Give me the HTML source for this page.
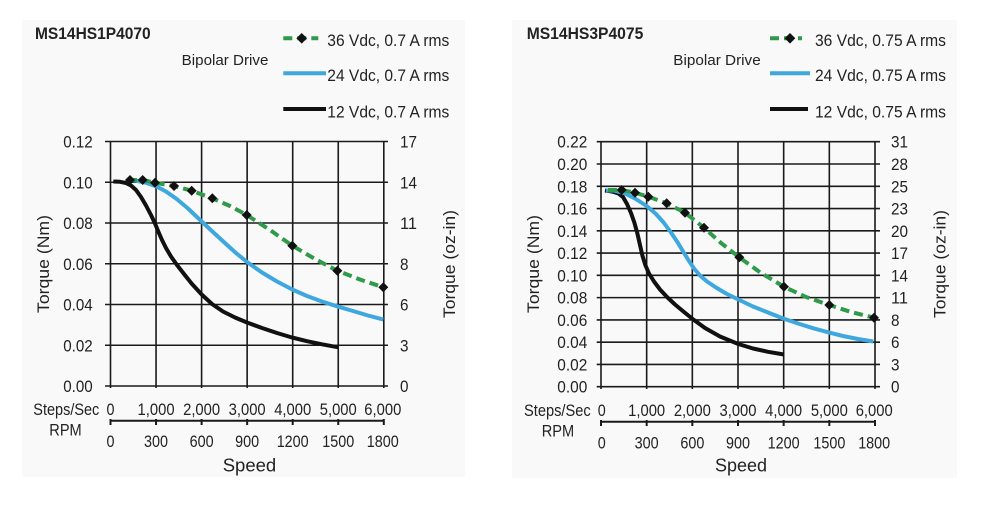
<!DOCTYPE html>
<html>
<head>
<meta charset="utf-8">
<style>
html,body{margin:0;padding:0;background:#fff;}
svg{display:block;}
text{font-family:"Liberation Sans",Arial,sans-serif;fill:#222;}
</style>
</head>
<body>
<svg width="989" height="505" viewBox="0 0 989 505" xmlns="http://www.w3.org/2000/svg">
<rect x="0" y="0" width="989" height="505" fill="#fff"/>
<rect x="22" y="20" width="443" height="457" fill="#f9f9f9"/>
<rect x="512" y="20" width="445" height="458" fill="#f9f9f9"/>

<!-- ============ LEFT CHART ============ -->
<g>
<text x="35" y="39" font-size="16.5" font-weight="bold" fill="#111" textLength="115.7" lengthAdjust="spacingAndGlyphs">MS14HS1P4070</text>
<text x="181.7" y="65" font-size="15" textLength="86.7" lengthAdjust="spacingAndGlyphs">Bipolar Drive</text>

<line x1="283.3" y1="38.3" x2="318.3" y2="38.3" stroke="#2f9a4a" stroke-width="4" stroke-dasharray="9,5"/>
<path d="M301.7,33 L307,38.3 L301.7,43.6 L296.4,38.3 Z" fill="#111"/>
<text x="327.3" y="46" font-size="17" textLength="122" lengthAdjust="spacingAndGlyphs">36 Vdc, 0.7 A rms</text>
<line x1="283.3" y1="73.3" x2="326" y2="73.3" stroke="#3ea8de" stroke-width="4"/>
<text x="327.3" y="81" font-size="17" textLength="122" lengthAdjust="spacingAndGlyphs">24 Vdc, 0.7 A rms</text>
<line x1="283.3" y1="109" x2="326" y2="109" stroke="#111" stroke-width="4"/>
<text x="327.3" y="117.3" font-size="17" textLength="122" lengthAdjust="spacingAndGlyphs">12 Vdc, 0.7 A rms</text>

<g stroke="#1a1a1a" stroke-width="1.6">
<line x1="105" y1="386" x2="388" y2="386"/>
<line x1="105" y1="345.25" x2="388" y2="345.25"/>
<line x1="105" y1="304.5" x2="388" y2="304.5"/>
<line x1="105" y1="263.75" x2="388" y2="263.75"/>
<line x1="105" y1="223" x2="388" y2="223"/>
<line x1="105" y1="182.25" x2="388" y2="182.25"/>
<line x1="105" y1="141.5" x2="388" y2="141.5"/>
<line x1="110.5" y1="141.5" x2="110.5" y2="388"/>
<line x1="156.05" y1="141.5" x2="156.05" y2="388"/>
<line x1="201.6" y1="141.5" x2="201.6" y2="388"/>
<line x1="247.15" y1="141.5" x2="247.15" y2="388"/>
<line x1="292.7" y1="141.5" x2="292.7" y2="388"/>
<line x1="338.25" y1="141.5" x2="338.25" y2="388"/>
<line x1="383.8" y1="141.5" x2="383.8" y2="388"/>
</g>

<g font-size="16.5" text-anchor="end">
<text x="92.7" y="392" textLength="29.5" lengthAdjust="spacingAndGlyphs">0.00</text>
<text x="92.7" y="351.25" textLength="29.5" lengthAdjust="spacingAndGlyphs">0.02</text>
<text x="92.7" y="310.5" textLength="29.5" lengthAdjust="spacingAndGlyphs">0.04</text>
<text x="92.7" y="269.75" textLength="29.5" lengthAdjust="spacingAndGlyphs">0.06</text>
<text x="92.7" y="229" textLength="29.5" lengthAdjust="spacingAndGlyphs">0.08</text>
<text x="92.7" y="188.25" textLength="29.5" lengthAdjust="spacingAndGlyphs">0.10</text>
<text x="92.7" y="147.5" textLength="29.5" lengthAdjust="spacingAndGlyphs">0.12</text>
</g>
<g font-size="16.5">
<text x="400" y="392" textLength="8.5" lengthAdjust="spacingAndGlyphs">0</text>
<text x="400" y="351.25" textLength="8.5" lengthAdjust="spacingAndGlyphs">3</text>
<text x="400" y="310.5" textLength="8.5" lengthAdjust="spacingAndGlyphs">6</text>
<text x="400" y="269.75" textLength="8.5" lengthAdjust="spacingAndGlyphs">8</text>
<text x="400" y="229" textLength="17" lengthAdjust="spacingAndGlyphs">11</text>
<text x="400" y="188.25" textLength="17" lengthAdjust="spacingAndGlyphs">14</text>
<text x="400" y="147.5" textLength="17" lengthAdjust="spacingAndGlyphs">17</text>
</g>

<text transform="translate(48.9,264) rotate(-90)" font-size="17" text-anchor="middle" textLength="98" lengthAdjust="spacingAndGlyphs">Torque (Nm)</text>
<text transform="translate(455.2,264) rotate(-90)" font-size="17" text-anchor="middle" textLength="108" lengthAdjust="spacingAndGlyphs">Torque (oz-in)</text>

<text x="33.3" y="415" font-size="16.5" textLength="66" lengthAdjust="spacingAndGlyphs">Steps/Sec</text>
<g font-size="16.5" text-anchor="middle">
<text x="110.5" y="415" textLength="8" lengthAdjust="spacingAndGlyphs">0</text>
<text x="156.05" y="415" textLength="37" lengthAdjust="spacingAndGlyphs">1,000</text>
<text x="201.6" y="415" textLength="37" lengthAdjust="spacingAndGlyphs">2,000</text>
<text x="247.15" y="415" textLength="37" lengthAdjust="spacingAndGlyphs">3,000</text>
<text x="292.7" y="415" textLength="37" lengthAdjust="spacingAndGlyphs">4,000</text>
<text x="338.25" y="415" textLength="37" lengthAdjust="spacingAndGlyphs">5,000</text>
<text x="382.8" y="415" textLength="37" lengthAdjust="spacingAndGlyphs">6,000</text>
</g>
<g stroke="#1a1a1a" stroke-width="2">
<line x1="110.3" y1="420.7" x2="384" y2="420.7"/>
<line x1="110.5" y1="419" x2="110.5" y2="425"/>
<line x1="156.05" y1="419" x2="156.05" y2="425"/>
<line x1="201.6" y1="419" x2="201.6" y2="425"/>
<line x1="247.15" y1="419" x2="247.15" y2="425"/>
<line x1="292.7" y1="419" x2="292.7" y2="425"/>
<line x1="338.25" y1="419" x2="338.25" y2="425"/>
<line x1="383.8" y1="419" x2="383.8" y2="425"/>
</g>
<text x="49.3" y="435.5" font-size="16.5" textLength="32.4" lengthAdjust="spacingAndGlyphs">RPM</text>
<g font-size="16.5" text-anchor="middle">
<text x="110.5" y="447" textLength="8" lengthAdjust="spacingAndGlyphs">0</text>
<text x="156.05" y="447" textLength="24" lengthAdjust="spacingAndGlyphs">300</text>
<text x="201.6" y="447" textLength="24" lengthAdjust="spacingAndGlyphs">600</text>
<text x="247.15" y="447" textLength="24" lengthAdjust="spacingAndGlyphs">900</text>
<text x="292.7" y="447" textLength="32" lengthAdjust="spacingAndGlyphs">1200</text>
<text x="338.25" y="447" textLength="32" lengthAdjust="spacingAndGlyphs">1500</text>
<text x="382.8" y="447" textLength="32" lengthAdjust="spacingAndGlyphs">1800</text>
</g>
<text x="222.7" y="471.7" font-size="18.5" textLength="53.5" lengthAdjust="spacingAndGlyphs">Speed</text>

<g fill="none" stroke-linejoin="round" stroke-linecap="butt">
<polyline stroke="#111" stroke-width="4" points="113.3,181.5 120,181.8 126,183 131,185.5 136,190 141,197 146,205.5 151,215 155,223.5 158.5,232 162,240 166,248 171,256.5 177,265 184,274 192,284 201.7,294.5 212,304 223,311.5 235,317.5 247,322.5 262,328 277,333 292,337.5 307,341.2 322,344.3 338.3,347.3"/>
<polyline stroke="#3ea8de" stroke-width="4" points="126.7,180 135,180.5 145,182.5 156.7,186.5 166,191.5 176.7,199 188,208.5 201.7,221.5 214,233 226,244 236,253 247,262 262,272.5 277,281.5 292.3,289.5 307,296 322,301.5 338.3,306.7 353,311 368,315.5 383.3,319.5"/>
<polyline stroke="#2f9a4a" stroke-width="4" stroke-dasharray="9,5" points="128,180 142.7,180 155,182.7 174,186 191.7,190.7 212.3,198.3 230,206 246.7,215 270,230 292.3,245.7 315,259 337.3,270.7 360,279.5 383.3,287.3"/>
</g>
<g fill="#111">
<path d="M130,175 l5,5 l-5,5 l-5,-5 z"/>
<path d="M142.7,175 l5,5 l-5,5 l-5,-5 z"/>
<path d="M155,177.7 l5,5 l-5,5 l-5,-5 z"/>
<path d="M174,181 l5,5 l-5,5 l-5,-5 z"/>
<path d="M191.7,185.7 l5,5 l-5,5 l-5,-5 z"/>
<path d="M212.3,193.3 l5,5 l-5,5 l-5,-5 z"/>
<path d="M246.7,210 l5,5 l-5,5 l-5,-5 z"/>
<path d="M292.3,240.7 l5,5 l-5,5 l-5,-5 z"/>
<path d="M337.3,265.7 l5,5 l-5,5 l-5,-5 z"/>
<path d="M383.3,282.3 l5,5 l-5,5 l-5,-5 z"/>
</g>
</g>

<!-- ============ RIGHT CHART ============ -->
<g>
<text x="526.7" y="39" font-size="16.5" font-weight="bold" fill="#111" textLength="116.6" lengthAdjust="spacingAndGlyphs">MS14HS3P4075</text>
<text x="673.3" y="65" font-size="15" textLength="87.4" lengthAdjust="spacingAndGlyphs">Bipolar Drive</text>

<line x1="770" y1="38.3" x2="802" y2="38.3" stroke="#2f9a4a" stroke-width="4" stroke-dasharray="9,5"/>
<path d="M790,33 L795.3,38.3 L790,43.6 L784.7,38.3 Z" fill="#111"/>
<text x="815" y="46" font-size="17" textLength="131" lengthAdjust="spacingAndGlyphs">36 Vdc, 0.75 A rms</text>
<line x1="770" y1="73.3" x2="810" y2="73.3" stroke="#3ea8de" stroke-width="4"/>
<text x="815" y="81" font-size="17" textLength="131" lengthAdjust="spacingAndGlyphs">24 Vdc, 0.75 A rms</text>
<line x1="770" y1="109" x2="808" y2="109" stroke="#111" stroke-width="4"/>
<text x="815" y="117.3" font-size="17" textLength="131" lengthAdjust="spacingAndGlyphs">12 Vdc, 0.75 A rms</text>

<g stroke="#1a1a1a" stroke-width="1.6">
<line x1="596.7" y1="386.7" x2="880" y2="386.7"/>
<line x1="596.7" y1="364.43" x2="880" y2="364.43"/>
<line x1="596.7" y1="342.16" x2="880" y2="342.16"/>
<line x1="596.7" y1="319.89" x2="880" y2="319.89"/>
<line x1="596.7" y1="297.62" x2="880" y2="297.62"/>
<line x1="596.7" y1="275.35" x2="880" y2="275.35"/>
<line x1="596.7" y1="253.08" x2="880" y2="253.08"/>
<line x1="596.7" y1="230.81" x2="880" y2="230.81"/>
<line x1="596.7" y1="208.54" x2="880" y2="208.54"/>
<line x1="596.7" y1="186.27" x2="880" y2="186.27"/>
<line x1="596.7" y1="164" x2="880" y2="164"/>
<line x1="596.7" y1="141.73" x2="880" y2="141.73"/>
<line x1="601" y1="141.73" x2="601" y2="389"/>
<line x1="646.67" y1="141.73" x2="646.67" y2="389"/>
<line x1="692.33" y1="141.73" x2="692.33" y2="389"/>
<line x1="738" y1="141.73" x2="738" y2="389"/>
<line x1="783.67" y1="141.73" x2="783.67" y2="389"/>
<line x1="829.33" y1="141.73" x2="829.33" y2="389"/>
<line x1="875" y1="141.73" x2="875" y2="389"/>
</g>

<g font-size="16.5" text-anchor="end">
<text x="587.3" y="392.7" textLength="30" lengthAdjust="spacingAndGlyphs">0.00</text>
<text x="587.3" y="370.43" textLength="30" lengthAdjust="spacingAndGlyphs">0.02</text>
<text x="587.3" y="348.16" textLength="30" lengthAdjust="spacingAndGlyphs">0.04</text>
<text x="587.3" y="325.89" textLength="30" lengthAdjust="spacingAndGlyphs">0.06</text>
<text x="587.3" y="303.62" textLength="30" lengthAdjust="spacingAndGlyphs">0.08</text>
<text x="587.3" y="281.35" textLength="30" lengthAdjust="spacingAndGlyphs">0.10</text>
<text x="587.3" y="259.08" textLength="30" lengthAdjust="spacingAndGlyphs">0.12</text>
<text x="587.3" y="236.81" textLength="30" lengthAdjust="spacingAndGlyphs">0.14</text>
<text x="587.3" y="214.54" textLength="30" lengthAdjust="spacingAndGlyphs">0.16</text>
<text x="587.3" y="192.27" textLength="30" lengthAdjust="spacingAndGlyphs">0.18</text>
<text x="587.3" y="170" textLength="30" lengthAdjust="spacingAndGlyphs">0.20</text>
<text x="587.3" y="147.73" textLength="30" lengthAdjust="spacingAndGlyphs">0.22</text>
</g>
<g font-size="16.5">
<text x="891" y="392.7" textLength="8.5" lengthAdjust="spacingAndGlyphs">0</text>
<text x="891" y="370.43" textLength="8.5" lengthAdjust="spacingAndGlyphs">3</text>
<text x="891" y="348.16" textLength="8.5" lengthAdjust="spacingAndGlyphs">6</text>
<text x="891" y="325.89" textLength="8.5" lengthAdjust="spacingAndGlyphs">8</text>
<text x="891" y="303.62" textLength="17" lengthAdjust="spacingAndGlyphs">11</text>
<text x="891" y="281.35" textLength="17" lengthAdjust="spacingAndGlyphs">14</text>
<text x="891" y="259.08" textLength="17" lengthAdjust="spacingAndGlyphs">17</text>
<text x="891" y="236.81" textLength="17" lengthAdjust="spacingAndGlyphs">20</text>
<text x="891" y="214.54" textLength="17" lengthAdjust="spacingAndGlyphs">23</text>
<text x="891" y="192.27" textLength="17" lengthAdjust="spacingAndGlyphs">25</text>
<text x="891" y="170" textLength="17" lengthAdjust="spacingAndGlyphs">28</text>
<text x="891" y="147.73" textLength="17" lengthAdjust="spacingAndGlyphs">31</text>
</g>

<text transform="translate(538.9,264) rotate(-90)" font-size="17" text-anchor="middle" textLength="98" lengthAdjust="spacingAndGlyphs">Torque (Nm)</text>
<text transform="translate(945.5,264) rotate(-90)" font-size="17" text-anchor="middle" textLength="108" lengthAdjust="spacingAndGlyphs">Torque (oz-in)</text>

<text x="524" y="416" font-size="16.5" textLength="66.7" lengthAdjust="spacingAndGlyphs">Steps/Sec</text>
<g font-size="16.5" text-anchor="middle">
<text x="601.7" y="416" textLength="8" lengthAdjust="spacingAndGlyphs">0</text>
<text x="646.67" y="416" textLength="37" lengthAdjust="spacingAndGlyphs">1,000</text>
<text x="692.33" y="416" textLength="37" lengthAdjust="spacingAndGlyphs">2,000</text>
<text x="738" y="416" textLength="37" lengthAdjust="spacingAndGlyphs">3,000</text>
<text x="783.67" y="416" textLength="37" lengthAdjust="spacingAndGlyphs">4,000</text>
<text x="829.33" y="416" textLength="37" lengthAdjust="spacingAndGlyphs">5,000</text>
<text x="874.2" y="416" textLength="37" lengthAdjust="spacingAndGlyphs">6,000</text>
</g>
<g stroke="#1a1a1a" stroke-width="2">
<line x1="601" y1="421.7" x2="875.2" y2="421.7"/>
<line x1="601" y1="420" x2="601" y2="426"/>
<line x1="646.67" y1="420" x2="646.67" y2="426"/>
<line x1="692.33" y1="420" x2="692.33" y2="426"/>
<line x1="738" y1="420" x2="738" y2="426"/>
<line x1="783.67" y1="420" x2="783.67" y2="426"/>
<line x1="829.33" y1="420" x2="829.33" y2="426"/>
<line x1="875" y1="420" x2="875" y2="426"/>
</g>
<text x="541.7" y="436.7" font-size="16.5" textLength="32.4" lengthAdjust="spacingAndGlyphs">RPM</text>
<g font-size="16.5" text-anchor="middle">
<text x="601.7" y="448.3" textLength="8" lengthAdjust="spacingAndGlyphs">0</text>
<text x="646.67" y="448.3" textLength="24" lengthAdjust="spacingAndGlyphs">300</text>
<text x="692.33" y="448.3" textLength="24" lengthAdjust="spacingAndGlyphs">600</text>
<text x="738" y="448.3" textLength="24" lengthAdjust="spacingAndGlyphs">900</text>
<text x="783.67" y="448.3" textLength="32" lengthAdjust="spacingAndGlyphs">1200</text>
<text x="829.33" y="448.3" textLength="32" lengthAdjust="spacingAndGlyphs">1500</text>
<text x="874.2" y="448.3" textLength="32" lengthAdjust="spacingAndGlyphs">1800</text>
</g>
<text x="715" y="471.7" font-size="18.5" textLength="52" lengthAdjust="spacingAndGlyphs">Speed</text>

<g fill="none" stroke-linejoin="round" stroke-linecap="butt">
<polyline stroke="#111" stroke-width="4" points="605,190.5 612,191.5 618.5,193.5 623,197 627,204 631,213 634.5,223 637.5,234 640,245 642.5,256 645.5,265.5 649,273.5 654,281.5 660,289.5 667,297 675,304.5 684,312 693.3,319.5 705,328 720,336.5 738.3,344 753,348.5 768,351.8 784,354.5"/>
<polyline stroke="#3ea8de" stroke-width="4" points="606,190.5 614,190.5 624,193 635,198.5 646.7,206 656,214 664,223 671,232.5 678,243 684,253 689,261 694,268.5 700,275.5 707,281.5 716,287.5 726,293.5 738.3,299.5 753,306.5 768,312.5 783.3,318.5 798,323.5 813,328.2 828.3,332.3 843,336 858,339 873.3,341.5"/>
<polyline stroke="#2f9a4a" stroke-width="4" stroke-dasharray="9,5" points="608,190 621.7,190 635,192.7 648.3,196.7 666.7,203.3 685,212.7 704,227.7 721,243 739.3,257.3 761,273 784,286.7 806,297 829.3,305 851,312 874,317.7"/>
</g>
<g fill="#111">
<path d="M621.7,185 l5,5 l-5,5 l-5,-5 z"/>
<path d="M635,187.7 l5,5 l-5,5 l-5,-5 z"/>
<path d="M648.3,191.7 l5,5 l-5,5 l-5,-5 z"/>
<path d="M666.7,198.3 l5,5 l-5,5 l-5,-5 z"/>
<path d="M685,207.7 l5,5 l-5,5 l-5,-5 z"/>
<path d="M704,222.7 l5,5 l-5,5 l-5,-5 z"/>
<path d="M739.3,252.3 l5,5 l-5,5 l-5,-5 z"/>
<path d="M784,281.7 l5,5 l-5,5 l-5,-5 z"/>
<path d="M829.3,300 l5,5 l-5,5 l-5,-5 z"/>
<path d="M874,312.7 l5,5 l-5,5 l-5,-5 z"/>
</g>
</g>
</svg>
</body>
</html>
